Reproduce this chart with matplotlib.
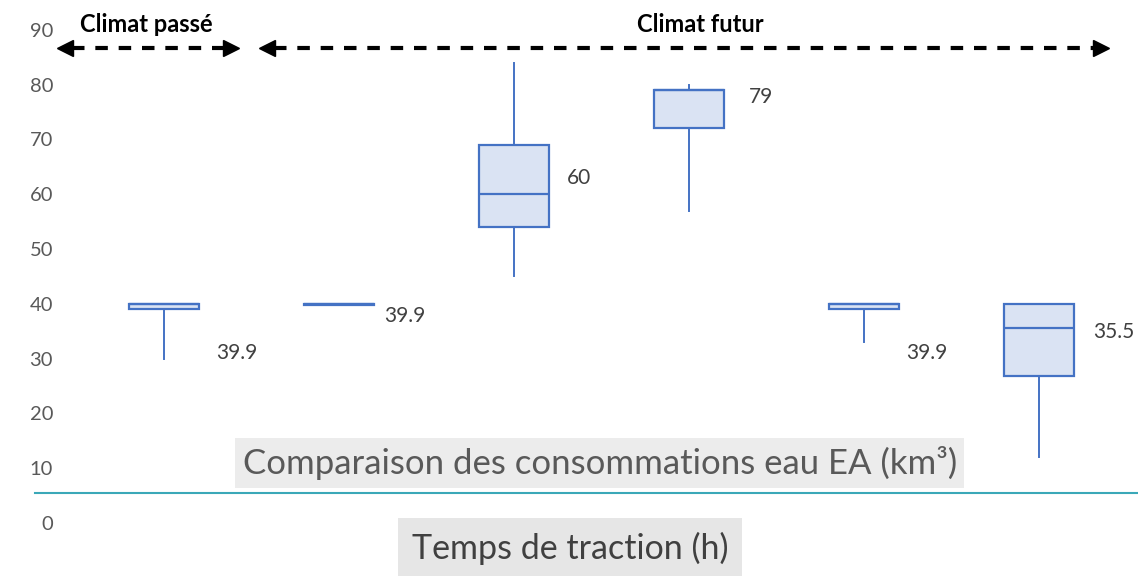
import matplotlib
matplotlib.use("Agg")
import matplotlib.pyplot as plt

plt.rcParams['font.family'] = ['Lato', 'DejaVu Sans']

# Statistiques des boîtes (km3)
positions = [1, 2, 3, 4, 5, 6]
whis_low = [30, 39.7, 45, 57, 33, 12]
q1 = [39, 39.7, 54, 72, 39, 26.8]
medians = [39.9, 39.9, 60, 79, 39.9, 35.5]
q3 = [40, 40, 69, 79, 40, 40]
whis_high = [40, 40, 84, 80, 40, 40]

# Position des étiquettes (décalage en x, hauteur en y)
label_dx = [0.297, 0.257, 0.303, 0.343, 0.24, 0.309]
label_y = [31.0, 37.8, 63, 77.7, 31.0, 34.9]

yticks = [0, 10, 20, 30, 40, 50, 60, 70, 80, 90]

blue = '#4472c4'
fill = '#dae3f3'
grey = '#595959'

fig = plt.figure(figsize=(11.38, 5.76), dpi=100)
ax = fig.add_axes([60 / 1138, 0, 1 - 60 / 1138, 1])

stats = []
for i in range(len(positions)):
    stats.append({'med': medians[i], 'q1': q1[i], 'q3': q3[i],
                  'whislo': whis_low[i], 'whishi': whis_high[i], 'fliers': []})

ax.bxp(stats, positions=positions, widths=0.405, showcaps=False,
       showfliers=False, patch_artist=True,
       boxprops=dict(facecolor=fill, edgecolor=blue, linewidth=1.6),
       medianprops=dict(color=blue, linewidth=1.6),
       whiskerprops=dict(color=blue, linewidth=1.4))

for p, m, dx, ly in zip(positions, medians, label_dx, label_y):
    ax.text(p + dx, ly, f"{m:g}", ha='left', va='center',
            fontsize=15, color='#404040')

ax.set_xlim(0.4057, 6.566)
ax.set_ylim(-9.67, 95.44)
ax.set_yticks(yticks)
ax.tick_params(axis='y', length=0, pad=5, labelsize=14.5, labelcolor=grey)
ax.set_xticks([])
for s in ax.spines.values():
    s.set_visible(False)

# ligne horizontale de base
ax.plot([0.263, 6.566], [5.47, 5.47], color='#3aa8b8', linewidth=1.5,
        clip_on=False)

# flèches passé / futur
def dashed_arrow(x0, x1, y):
    ax.plot([x0 + 0.04, x1 - 0.04], [y, y], color='black', linewidth=3,
            dashes=(3, 2.6), solid_capstyle='butt', clip_on=False)
    ax.plot([x0], [y], marker='<', color='black', markersize=11, clip_on=False)
    ax.plot([x1], [y], marker='>', color='black', markersize=11, clip_on=False)

dashed_arrow(0.434, 1.383, 86.7)
dashed_arrow(1.589, 6.354, 86.7)

ax.text(0.9, 91, 'Climat passé', ha='center', va='center',
        fontsize=17, fontweight='bold', color='black')
ax.text(4.063, 91, 'Climat futur', ha='center', va='center',
        fontsize=17, fontweight='bold', color='black')

ax.text(3.49, 10.95, 'Comparaison des consommations eau EA (km³)',
        ha='center', va='center', fontsize=25, color=grey,
        bbox=dict(boxstyle='square,pad=0.22', facecolor='#ececec', edgecolor='none'))
ax.text(3.32, -4.56, 'Temps de traction (h)',
        ha='center', va='center', fontsize=24.5, color='#404040',
        bbox=dict(boxstyle='square,pad=0.4', facecolor='#e6e6e6', edgecolor='none'))

fig.savefig('out.png', dpi=100)
